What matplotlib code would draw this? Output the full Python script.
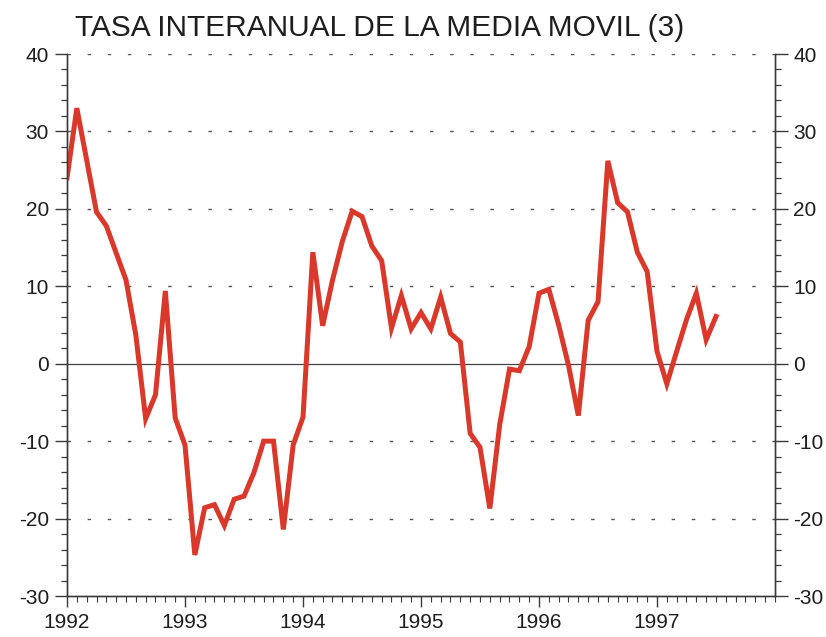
import numpy as np
import matplotlib
matplotlib.use("Agg")
import matplotlib.pyplot as plt
from matplotlib.ticker import MultipleLocator, FixedLocator

plt.rcParams['font.family'] = ['Liberation Sans', 'DejaVu Sans']
plt.rcParams['axes.unicode_minus'] = False

# monthly values, Jan 1992 .. Jul 1997
tasa_1992 = [24.0, 33.0, 26.3, 19.6, 17.8, 14.3, 10.8, 3.7, -7.1, -4.0, 9.4, -7.0]
tasa_1993 = [-10.5, -24.7, -18.6, -18.2, -20.9, -17.5, -17.1, -14.1, -10.0, -10.0, -21.4, -10.5]
tasa_1994 = [-6.9, 14.4, 4.9, 10.8, 15.8, 19.7, 19.0, 15.2, 13.3, 4.6, 8.8, 4.5]
tasa_1995 = [6.6, 4.5, 8.6, 3.9, 2.8, -9.0, -10.8, -18.7, -7.9, -0.7, -0.9, 2.2]
tasa_1996 = [9.1, 9.6, 5.0, -0.2, -6.7, 5.6, 8.0, 26.2, 20.8, 19.6, 14.4, 11.9]
tasa_1997 = [1.6, -2.6, 1.6, 5.7, 9.1, 3.1, 6.1]

years = [1992, 1993, 1994, 1995, 1996, 1997]
title = 'TASA INTERANUAL DE LA MEDIA MOVIL (3)'

tasa = tasa_1992 + tasa_1993 + tasa_1994 + tasa_1995 + tasa_1996 + tasa_1997
months = np.arange(len(tasa))  # months since Jan 1992

fig = plt.figure(figsize=(8.26, 6.37), dpi=100)
ax = fig.add_axes([67 / 826, 1 - 596 / 637, (775 - 67) / 826, (596 - 54) / 637])
ax2 = ax.twinx()

axis_col = '#3a3a3a'
txt_col = '#1e1e1e'

# grid and zero line
for v in [-20, -10, 10, 20, 30, 40]:
    ax.axhline(v, color='#555555', lw=1.0, ls=(0, (2.5, 12)), zorder=1)
ax.axhline(0, color='#444444', lw=0.9, zorder=2)

ax.plot(months, tasa, color='#d9382a', lw=3.6, solid_joinstyle='miter', zorder=3)

ax.set_xlim(0, 72)
for a in (ax, ax2):
    a.set_ylim(-30, 40)
    a.yaxis.set_major_locator(MultipleLocator(10))
    a.yaxis.set_minor_locator(MultipleLocator(2))
    a.spines['top'].set_visible(False)
    for s in ('left', 'right', 'bottom'):
        a.spines[s].set_color(axis_col)
        a.spines[s].set_linewidth(1.0)
    a.tick_params(axis='y', which='major', direction='out', length=9, width=1.0,
                  color=axis_col, labelsize=15, labelcolor=txt_col, pad=4)
    a.tick_params(axis='y', which='minor', direction='out', length=4.5, width=0.9,
                  color=axis_col)

ax.xaxis.set_major_locator(FixedLocator([12 * i for i in range(len(years))]))
ax.set_xticklabels([str(y) for y in years])
ax.xaxis.set_minor_locator(MultipleLocator(1))
ax.tick_params(axis='x', which='major', direction='out', length=8, width=1.0,
               color=axis_col, labelsize=15, labelcolor=txt_col, pad=4)
ax.tick_params(axis='x', which='minor', direction='out', length=4, width=0.8,
               color=axis_col)

fig.text(75 / 826, 1 - 36 / 637, title, fontsize=21.5, color=txt_col,
         ha='left', va='baseline')

fig.savefig('out.png', dpi=100)
